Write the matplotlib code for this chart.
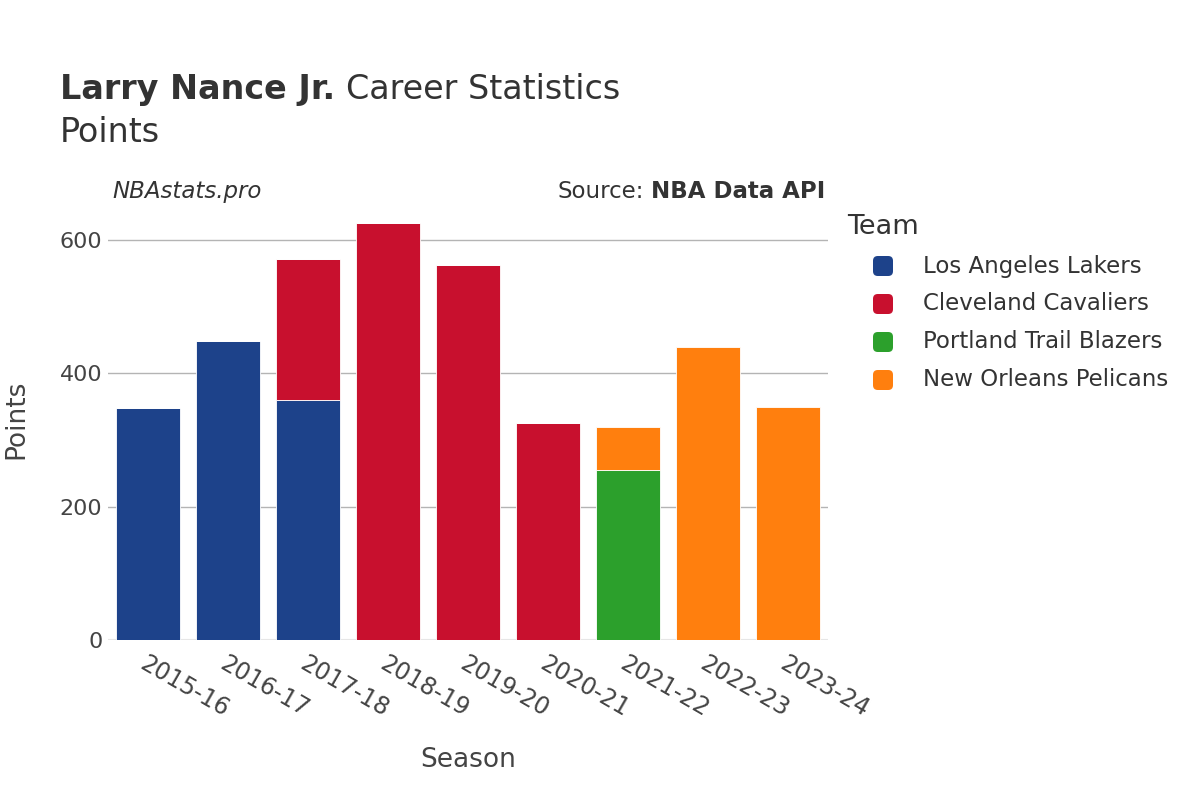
import matplotlib
matplotlib.use("Agg")
import matplotlib.pyplot as plt
from matplotlib.patches import FancyBboxPatch
import numpy as np

plt.rcParams['font.family'] = ['DejaVu Sans']

# data
SEASONS = ["2015-16", "2016-17", "2017-18", "2018-19", "2019-20",
           "2020-21", "2021-22", "2022-23", "2023-24"]
TEAMS = ["Los Angeles Lakers", "Cleveland Cavaliers",
         "Portland Trail Blazers", "New Orleans Pelicans"]
LAKERS = [348, 448, 360, 0, 0, 0, 0, 0, 0]
CAVALIERS = [0, 0, 212, 626, 563, 326, 0, 0, 0]
BLAZERS = [0, 0, 0, 0, 0, 0, 255, 0, 0]
PELICANS = [0, 0, 0, 0, 0, 0, 65, 440, 349]

TEAM_COLORS = ["#1D428A", "#C8102E", "#2CA02C", "#FF7F0E"]
TEXT = "#333333"
AXTEXT = "#444444"
W, H = 1200, 800

fig = plt.figure(figsize=(12, 8), dpi=100)
ax = fig.add_axes([0.09, 0.2, 0.6, 0.55])

x = np.arange(len(SEASONS))
bottom = np.zeros(len(SEASONS))
for team, vals, color in zip(TEAMS, [LAKERS, CAVALIERS, BLAZERS, PELICANS], TEAM_COLORS):
    vals = np.array(vals, dtype=float)
    ax.bar(x, vals, bottom=bottom, width=0.79, color=color,
           edgecolor="white", linewidth=0.6, label=team, zorder=3)
    bottom += vals

ax.set_xlim(-0.5, len(SEASONS) - 0.5)
ax.set_ylim(0, 660)
ax.set_yticks([0, 200, 400, 600])
for y in [200, 400, 600]:
    ax.axhline(y, color="#b4b4b4", linewidth=1, zorder=1)
ax.axhline(0, color="#e6e6e6", linewidth=1.5, zorder=1)

for s in ax.spines.values():
    s.set_visible(False)
ax.tick_params(axis="y", length=0, labelsize=16, colors=AXTEXT, pad=4)
ax.set_xticks(x)
ax.set_xticklabels(SEASONS, rotation=-30, ha="left", rotation_mode="anchor")
ax.tick_params(axis="x", length=0, labelsize=17, colors=AXTEXT, pad=8)

# axis titles
fig.text(0.014, 0.476, "Points", fontsize=19, color=AXTEXT, rotation=90,
         ha="center", va="center")
fig.text(0.39, 0.05, "Season", fontsize=19, color=AXTEXT,
         ha="center", va="center")

# title: bold name + regular rest
t1 = fig.text(0.05, 0.888, "Larry Nance Jr.", fontsize=24, fontweight="bold",
              color=TEXT, va="center")
fig.canvas.draw()
bb = t1.get_window_extent()
fig.text(bb.x1 / W + 0.009, 0.888, "Career Statistics", fontsize=24,
         color=TEXT, va="center")
fig.text(0.05, 0.835, "Points", fontsize=24, color=TEXT, va="center")

fig.text(0.094, 0.761, "NBAstats.pro", fontsize=16.5, style="italic",
         color=TEXT, va="center")
s1 = fig.text(0.6875, 0.761, "NBA Data API", fontsize=16.5, fontweight="bold",
              color=TEXT, va="center", ha="right")
fig.canvas.draw()
bb2 = s1.get_window_extent()
fig.text(bb2.x0 / W - 0.006, 0.761, "Source:", fontsize=16.5,
         color=TEXT, va="center", ha="right")

# legend, drawn by hand for plotly-like indent and rounded swatches
fig.text(847 / W, 1 - 227 / H, "Team", fontsize=19.5, color=TEXT,
         ha="left", va="center")
for i, (team, color) in enumerate(zip(TEAMS, TEAM_COLORS)):
    yc = 266 + 38 * i
    sw = FancyBboxPatch(((873) / W, 1 - (yc + 10) / H), 20 / W, 20 / H,
                        boxstyle="round,pad=0,rounding_size=0.004",
                        transform=fig.transFigure, facecolor=color,
                        edgecolor="none", mutation_aspect=W / H)
    fig.patches.append(sw)
    fig.text(923 / W, 1 - yc / H, team, fontsize=16.5, color=TEXT,
             ha="left", va="center")

fig.savefig("out.png", dpi=100)
